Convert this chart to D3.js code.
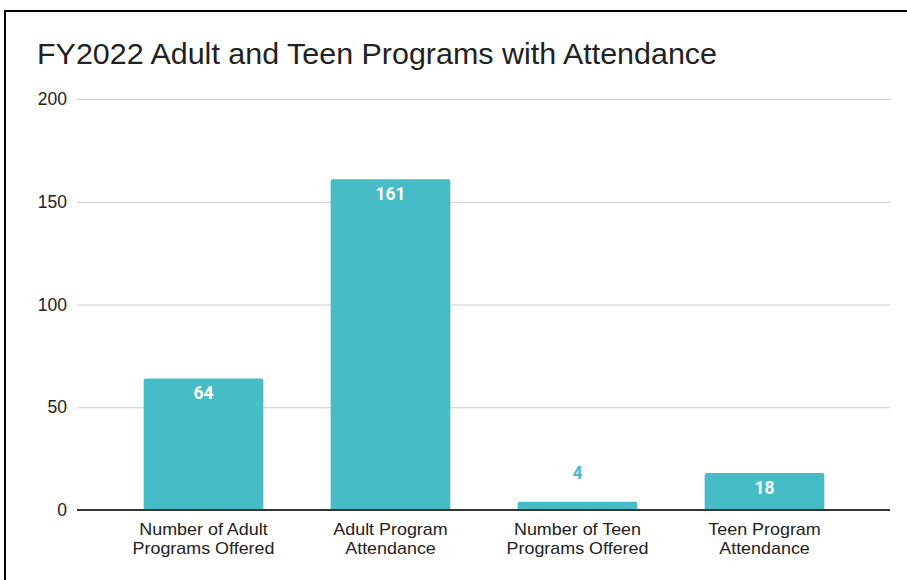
<!DOCTYPE html>
<html>
<head>
<meta charset="utf-8">
<script src="https://cdn.jsdelivr.net/npm/d3@7"></script>
<style>
  html, body { margin: 0; padding: 0; background: #fff; }
  svg { display: block; }
</style>
</head>
<body>
<svg id="chart" width="907" height="580"></svg>
<script>
// Program counts and attendance for FY2022
const categories = [
  ["Number of Adult", "Programs Offered"],
  ["Adult Program", "Attendance"],
  ["Number of Teen", "Programs Offered"],
  ["Teen Program", "Attendance"]
];
const values = [64, 161, 4, 18];
const yTicks = [0, 50, 100, 150, 200];
const title = "FY2022 Adult and Teen Programs with Attendance";

const svg = d3.select("#chart");
const W = 907, H = 580;
const barColor = "#46bdc6";
const sans = "Liberation Sans, Arial, sans-serif";

// frame around the chart
svg.append("rect")
  .attr("x", 5).attr("y", 11)
  .attr("width", W + 10).attr("height", H + 10)
  .attr("fill", "#fff")
  .attr("stroke", "#000").attr("stroke-width", 2);

svg.append("text")
  .attr("x", 37).attr("y", 64)
  .attr("font-family", sans)
  .attr("font-size", 29)
  .attr("textLength", 680)
  .attr("lengthAdjust", "spacingAndGlyphs")
  .attr("fill", "#222")
  .text(title);

const gridLeft = 77, gridRight = 890;
const y = d3.scaleLinear().domain([0, 200]).range([510, 99]);
const x = d3.scaleBand()
  .domain(d3.range(categories.length))
  .range([110, 858])
  .paddingInner(0.36)
  .paddingOuter(0.18);

// horizontal gridlines with tick labels
const yAxis = d3.axisLeft(y)
  .tickValues(yTicks)
  .tickSize(-(gridRight - gridLeft))
  .tickPadding(10)
  .tickFormat(d3.format("d"));

const gy = svg.append("g")
  .attr("transform", `translate(${gridLeft},0)`)
  .call(yAxis);
gy.select(".domain").remove();
gy.selectAll(".tick line").attr("stroke", "#cccccc").attr("stroke-width", 1);
gy.selectAll(".tick text")
  .attr("font-family", sans)
  .attr("font-size", 17.5)
  .attr("fill", "#222");

// bars with slightly rounded tops
const r = 2;
function barPath(i) {
  const x0 = x(i), x1 = x(i) + x.bandwidth();
  const yt = y(values[i]), yb = y(0);
  return `M${x0},${yb}V${yt + r}Q${x0},${yt} ${x0 + r},${yt}H${x1 - r}Q${x1},${yt} ${x1},${yt + r}V${yb}Z`;
}
svg.append("g").selectAll("path")
  .data(values)
  .join("path")
  .attr("d", (d, i) => barPath(i))
  .attr("fill", barColor);

// baseline
svg.append("line")
  .attr("x1", gridLeft).attr("x2", gridRight)
  .attr("y1", y(0)).attr("y2", y(0))
  .attr("stroke", "#333").attr("stroke-width", 2);

// value labels: inside the bar when it is tall enough, otherwise above
svg.append("g").selectAll("text")
  .data(values)
  .join("text")
  .attr("x", (d, i) => x(i) + x.bandwidth() / 2)
  .attr("y", d => {
    const h = y(0) - y(d);
    return h > 30 ? y(d) + 21 : y(d) - 23;
  })
  .attr("text-anchor", "middle")
  .attr("font-family", "Roboto, sans-serif")
  .attr("font-weight", "bold")
  .attr("font-size", 17.5)
  .attr("fill", d => (y(0) - y(d) > 30 ? "#fff" : barColor))
  .text(d => d);

// category labels, two lines each, slightly widened
const lines = categories.flatMap((c, i) => c.map((t, j) => ({ t, i, j })));
svg.append("g").selectAll("text")
  .data(lines)
  .join("text")
  .attr("transform", d =>
    `translate(${x(d.i) + x.bandwidth() / 2},${535 + d.j * 18.5}) scale(1.12,1)`)
  .attr("text-anchor", "middle")
  .attr("font-family", sans)
  .attr("font-size", 16)
  .attr("fill", "#222")
  .text(d => d.t);
</script>
</body>
</html>
